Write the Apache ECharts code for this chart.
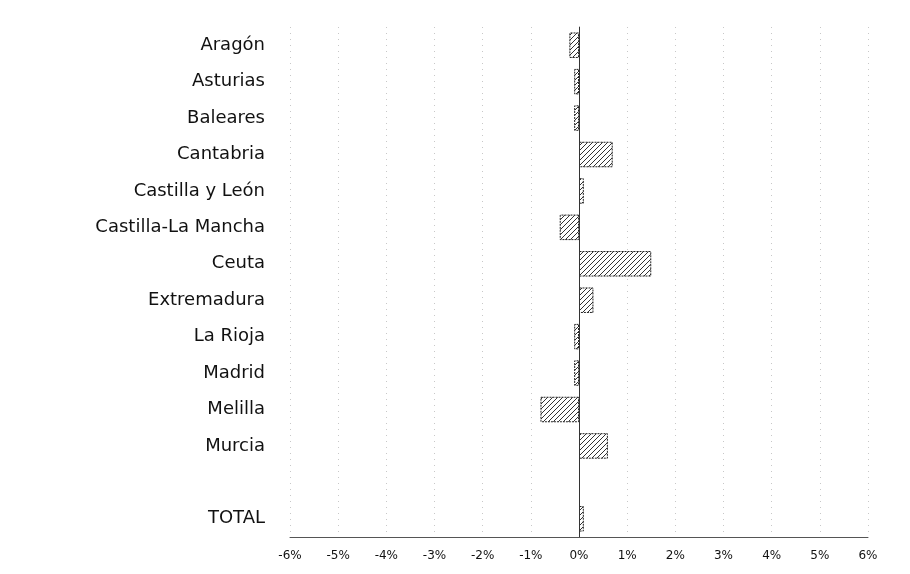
<!DOCTYPE html>
<html>
<head>
<meta charset="utf-8">
<script src="https://cdn.jsdelivr.net/npm/echarts@6/dist/echarts.min.js"></script>
<style>
	html, body { margin: 0; padding: 0; background: #fff; }
	#chart { width: 910px; height: 574px; }
</style>
</head>
<body>
<div id="chart"></div>
<script>
	// regiones (hueco vacio antes del TOTAL)
	let regions = ['Aragón', 'Asturias', 'Baleares', 'Cantabria', 'Castilla y León', 'Castilla-La Mancha',
		'Ceuta', 'Extremadura', 'La Rioja', 'Madrid', 'Melilla', 'Murcia', '', 'TOTAL'];
	// variacion en %
	let values = [-0.2, -0.1, -0.1, 0.7, 0.1, -0.4, 1.5, 0.3, -0.1, -0.1, -0.8, 0.6, null, 0.1];
	let xTicks = [-6, -5, -4, -3, -2, -1, 0, 1, 2, 3, 4, 5, 6];

	// trama rayada para las barras
	function hatch() {
		let c = document.createElement('canvas');
		c.width = 5;
		c.height = 5;
		let ctx = c.getContext('2d');
		ctx.fillStyle = '#fff';
		ctx.fillRect(0, 0, 5, 5);
		ctx.strokeStyle = '#333';
		ctx.lineWidth = 1;
		ctx.beginPath();
		ctx.moveTo(0, 5); ctx.lineTo(5, 0);
		ctx.moveTo(-1, 1); ctx.lineTo(1, -1);
		ctx.moveTo(4, 6); ctx.lineTo(6, 4);
		ctx.stroke();
		return c;
	}

	let myChart = echarts.init(document.getElementById('chart'));
	let option = {
		backgroundColor: '#fff',
		animation: false,
		grid: {
			left: 290,
			right: 42,
			top: 27,
			bottom: 37
		},
		xAxis: {
			type: 'value',
			min: xTicks[0],
			max: xTicks[xTicks.length - 1],
			interval: 1,
			axisLine: { show: true, lineStyle: { color: '#555', width: 1 } },
			axisTick: { show: false },
			axisLabel: {
				color: '#111',
				fontFamily: 'DejaVu Sans',
				fontSize: 12,
				margin: 13,
				formatter: function (v) { return v + '%'; }
			},
			splitLine: { show: true, lineStyle: { color: '#c8c8c8', type: [1, 5], width: 1 } }
		},
		yAxis: {
			type: 'category',
			inverse: true,
			data: regions,
			axisLine: { show: true, lineStyle: { color: '#666', width: 1 } },
			axisTick: { show: false },
			axisLabel: {
				color: '#111',
				fontFamily: 'DejaVu Sans',
				fontSize: 18,
				margin: 25
			}
		},
		series: [{
			type: 'bar',
			data: values,
			barCategoryGap: '30%',
			itemStyle: {
				color: { image: hatch(), repeat: 'repeat' },
				borderColor: '#222',
				borderWidth: 1,
				borderType: [2, 1]
			},
			markLine: {
				silent: true,
				symbol: 'none',
				label: { show: false },
				lineStyle: { color: '#333', type: 'solid', width: 1 },
				data: [{ xAxis: 0 }]
			}
		}]
	};
	myChart.setOption(option);
</script>
</body>
</html>
